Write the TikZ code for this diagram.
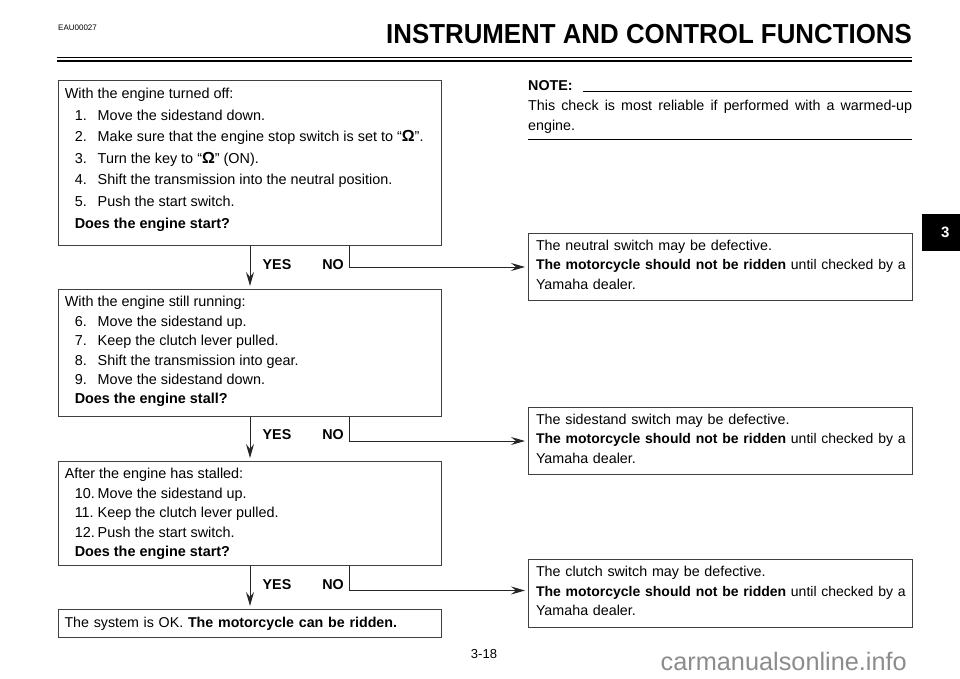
\documentclass[tikz,border=0pt]{standalone}
\usepackage{fontspec}
\setmainfont{Liberation Sans}
\newfontfamily\titlefont[FakeStretch=0.94]{Liberation Sans}
\usetikzlibrary{arrows.meta,positioning}
\newcommand{\stepline}[2]{\makebox[23pt][l]{#1}#2}
\newcommand{\boxtext}[2]{\parbox[c][#1][t]{371pt}{\vspace*{7pt}#2}}
\newcommand{\stopmark}{{\fontsize{16}{16}\selectfont\bfseries Ω}}
\newcommand{\hintlines}[1]{The #1 switch may be defective.\\\makebox[369pt][l]{\fontsize{14}{19.5}\selectfont\textbf{The motorcycle should not be ridden} until checked by a}\\Yamaha dealer.\rule[-5pt]{0pt}{0pt}}
\begin{document}
\begin{tikzpicture}[
        x=1pt, y=-1pt,
        check_box/.style={rectangle, draw=black!75, line width=1pt, inner sep=0pt, anchor=north west, minimum width=383pt},
        hint_box/.style={rectangle, draw=black!75, line width=1pt, anchor=north west, inner xsep=7.5pt, inner ysep=0pt, text width=369pt, minimum height=67pt, align=left, font=\fontsize{14.3}{19.5}\selectfont},
        flow/.style={draw=black!85, line width=1pt, shorten >=3pt, -{Stealth[length=14pt,width=8pt,inset=5pt]}},
        branch_label/.style={font=\fontsize{14.3}{16}\selectfont\bfseries},
        page_text/.style={inner sep=0pt}
    ]
        \useasboundingbox (0,0) rectangle (960,679);

        % Header
        \node[page_text, anchor=base west, font=\fontsize{8}{10}\selectfont] (code) at (58,31) {EAU00027};
        \node[page_text, anchor=base east, font=\fontsize{27.5}{30}\selectfont\titlefont\bfseries] (title) at (912,44) {INSTRUMENT AND CONTROL FUNCTIONS};
        \draw[line width=0.9pt] (57,57.5) -- (912,57.5);
        \draw[line width=2.2pt] (57,61) -- (912,61);

        % Left column
        \node[check_box, font=\fontsize{14.4}{21.6}\selectfont] (off) at (58,80) {\hspace{0.5pt}\boxtext{165pt}{\vspace*{0.5pt}With the engine turned off:\\
            \hspace*{10pt}\stepline{1.}{Move the sidestand down.}\\
            \hspace*{10pt}\stepline{2.}{Make sure that the engine stop switch is set to “\stopmark”.}\\
            \hspace*{10pt}\stepline{3.}{Turn the key to “\stopmark” (ON).}\\
            \hspace*{10pt}\stepline{4.}{Shift the transmission into the neutral position.}\\
            \hspace*{10pt}\stepline{5.}{Push the start switch.}\\
            \hspace*{10pt}\textbf{Does the engine start?}}\hspace{11.5pt}};
        \node[check_box, font=\fontsize{14.4}{19.4}\selectfont] (running) at (58,289) {\hspace{0.5pt}\boxtext{127pt}{With the engine still running:\\
            \hspace*{10pt}\stepline{6.}{Move the sidestand up.}\\
            \hspace*{10pt}\stepline{7.}{Keep the clutch lever pulled.}\\
            \hspace*{10pt}\stepline{8.}{Shift the transmission into gear.}\\
            \hspace*{10pt}\stepline{9.}{Move the sidestand down.}\\
            \hspace*{10pt}\textbf{Does the engine stall?}}\hspace{11.5pt}};
        \node[check_box, font=\fontsize{14.4}{19.4}\selectfont] (stalled) at (58,461) {\hspace{0.5pt}\boxtext{104pt}{After the engine has stalled:\\
            \hspace*{10pt}\stepline{10.}{Move the sidestand up.}\\
            \hspace*{10pt}\stepline{11.}{Keep the clutch lever pulled.}\\
            \hspace*{10pt}\stepline{12.}{Push the start switch.}\\
            \hspace*{10pt}\textbf{Does the engine start?}}\hspace{11.5pt}};
        \node[check_box, minimum height=28pt, inner xsep=6pt, text width=371pt, font=\fontsize{14.25}{16}\selectfont] (ok) at (58,609) {The system is OK. \textbf{The motorcycle can be ridden.}};

        % Right column
        \node[page_text, anchor=base west, font=\fontsize{14.3}{16}\selectfont\bfseries] (note) at (528,91) {NOTE:};
        \coordinate (note_end) at (912,91);
        \draw[line width=0.9pt] (note.base east) ++(10,0) -- (note_end);
        \node[page_text, anchor=north west, text width=384pt, align=justify, font=\fontsize{14.3}{19.5}\selectfont] (note_text) at (528,100) {This check is most reliable if performed with a warmed-up\linebreak engine.};
        \draw[line width=0.9pt] (528,139) -- (912,139);
        \node[hint_box] (neutral) at (528,233) {\hintlines{neutral}};
        \node[hint_box] (sidestand) at (528,407) {\hintlines{sidestand}};
        \node[hint_box, minimum height=68pt] (clutch) at (528,559) {\hintlines{clutch}};

        % Connectors
        \draw[flow] (off.south) -- (running.north);
        \draw[flow] (running.south) -- (stalled.north);
        \draw[flow] (stalled.south) -- (ok.north);
        \draw[flow] ([xshift=99.5pt]off.south) |- (neutral.west);
        \draw[flow] ([xshift=99.5pt]running.south) |- (sidestand.west);
        \draw[flow] ([xshift=99.5pt]stalled.south) |- ([yshift=3pt]clutch.west);

        % Branch labels
        \node[branch_label] (yes1) at (277,265) {YES};
        \node[branch_label] (no1) at (333,265) {NO};
        \node[branch_label] (yes2) at (277,435) {YES};
        \node[branch_label] (no2) at (333,435) {NO};
        \node[branch_label] (yes3) at (277,585) {YES};
        \node[branch_label] (no3) at (333,585) {NO};

        % Footer and tab
        \node[rectangle, fill=black, text=white, anchor=north west, minimum width=38pt, minimum height=37pt, inner sep=0pt, font=\fontsize{15}{16}\selectfont\bfseries] (tab) at (922,214) {\hspace*{8pt}3};
        \node[page_text, font=\fontsize{13}{14}\selectfont] (page) at (484,654) {3-18};
        \node[page_text, anchor=base east, text=black!45, font=\fontsize{25.3}{28}\selectfont] (mark) at (907,670) {carmanualsonline.info};
    \end{tikzpicture}
\end{document}
